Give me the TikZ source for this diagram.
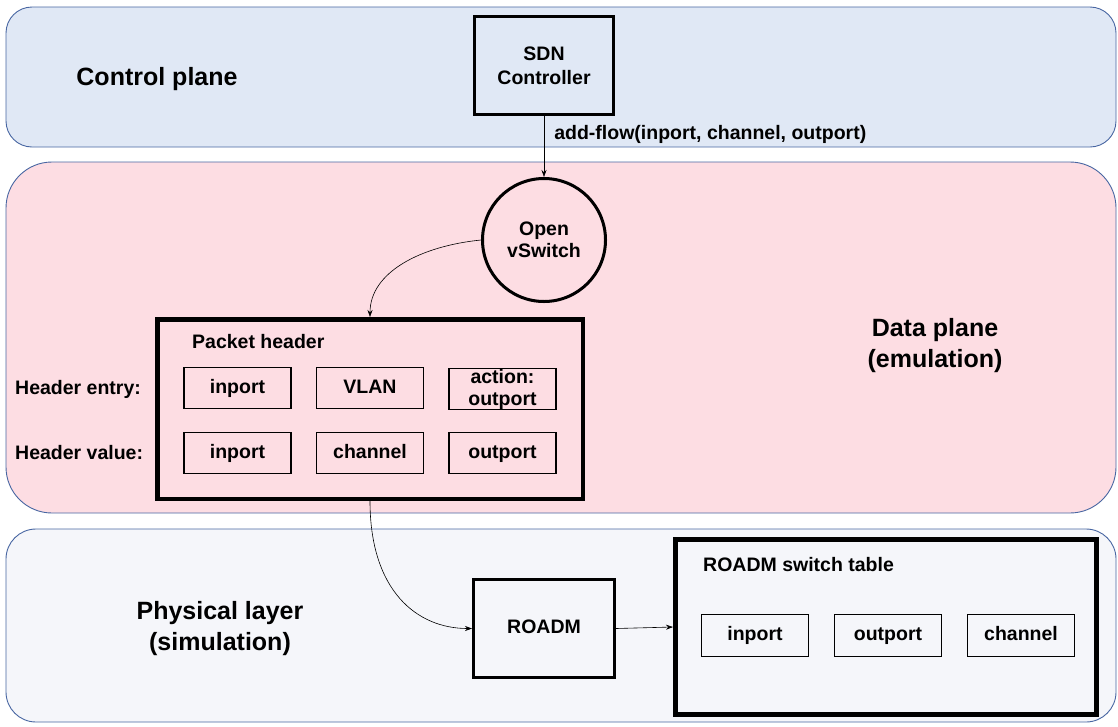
\documentclass[tikz,border=0pt]{standalone}
\usepackage{fontspec}
\setmainfont{Liberation Sans}
\usetikzlibrary{arrows.meta}

\definecolor{ctrlfill}{RGB}{224,232,245}
\definecolor{datafill}{RGB}{253,221,227}
\definecolor{physfill}{RGB}{245,246,250}
\definecolor{bandline}{RGB}{72,102,162}

\tikzset{
  band/.style={draw=bandline, line width=0.9pt, inner sep=0pt},
  biglabel/.style={font=\bfseries\fontsize{25}{31}\selectfont, align=center, inner sep=0pt},
  smalltext/.style={font=\bfseries\fontsize{19.5}{22}\selectfont, inner sep=0pt},
  thickbox/.style={draw, line width=3pt, inner sep=0pt, align=center,
    font=\bfseries\fontsize{19.5}{24}\selectfont},
  framebox/.style={draw, line width=4.5pt, inner sep=0pt},
  cell/.style={draw, line width=1.8pt, inner sep=0pt, align=center,
    minimum width=107pt, minimum height=41pt,
    font=\bfseries\fontsize{19.5}{22}\selectfont},
  oneline/.style={text height=14pt, text depth=4pt},
  conn/.style={draw, line width=0.6pt, -{Stealth[length=7pt,width=5pt]}},
}

\begin{document}
\begin{tikzpicture}[x=1pt, y=-1pt]
\useasboundingbox (0,0) rectangle (1118,726);

% layer bands
\path[band, fill=ctrlfill, rounded corners=26pt] (6,7) rectangle (1116,147);
\path[band, fill=datafill, rounded corners=46pt] (6,162) rectangle (1116,513);
\path[band, fill=physfill, rounded corners=30pt] (6,529) rectangle (1116,722);

% layer titles
\node[biglabel] (ctrltitle) at (157,79) {Control plane};
\node[biglabel] (datatitle) at (935,346) {Data plane\\(emulation)};
\node[biglabel] (phystitle) at (220,629) {Physical layer\\(simulation)};

% control plane
\node[thickbox, minimum width=139pt, minimum height=98pt] (sdn) at (544,65.5)
  {SDN\\Controller};

% data plane
\node[circle, draw, line width=3pt, minimum size=123pt, inner sep=0pt, align=center,
  font=\bfseries\fontsize{19.5}{22}\selectfont] (ovs) at (544,240) {Open\\vSwitch};

\node[framebox, minimum width=425.5pt, minimum height=179.5pt] (ph) at (370,409) {};
\node[smalltext, anchor=west] (phtitle) at (192,342) {Packet header};

\node[smalltext, anchor=west] (hentry) at (15,389) {Header entry:};
\node[smalltext, anchor=west] (hvalue) at (15,453) {Header value:};

\node[cell, oneline] (e1) at (237.5,388) {inport};
\node[cell, oneline] (e2) at (370,388) {VLAN};
\node[cell] (e3) at (502.5,389) {action:\\outport};
\node[cell, oneline] (v1) at (237.5,453) {inport};
\node[cell, oneline] (v2) at (370,453) {channel};
\node[cell, oneline] (v3) at (502.5,453) {outport};

% physical layer
\node[thickbox, oneline, minimum width=141pt, minimum height=98pt] (roadm) at (544,628.5) {ROADM};

\node[framebox, line width=5pt, minimum width=421pt, minimum height=175pt] (tbl) at (886,627) {};
\node[smalltext, anchor=west] (tbltitle) at (703,565) {ROADM switch table};

\node[cell, oneline, minimum height=42pt] (t1) at (755,635.5) {inport};
\node[cell, oneline, minimum height=42pt] (t2) at (888,635.5) {outport};
\node[cell, oneline, minimum height=42pt] (t3) at (1021,635.5) {channel};

% connectors
\draw[conn] (sdn.south) -- node[smalltext, anchor=west, pos=0.3, xshift=10pt] (flowlbl)
  {add-flow(inport, channel, outport)} (ovs.north);
\draw[conn] (ovs.west) .. controls +(-60,6) and +(0,-45) .. (ph.north);
\draw[conn] (ph.south) .. controls +(0,90) and +(-55,0) .. (roadm.west);
\draw[conn] (roadm.east) -- (tbl.west);
\end{tikzpicture}
\end{document}
